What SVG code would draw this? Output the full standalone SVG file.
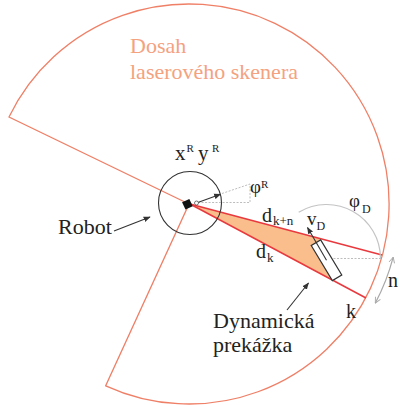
<svg xmlns="http://www.w3.org/2000/svg" width="401" height="405" viewBox="0 0 401 405">
<defs>
<style>
text{font-family:'Liberation Serif','Times New Roman',serif;fill:#222}
.range{fill:none;stroke:#EF7F66;stroke-width:1.3}
.ray{stroke:#E8393E;stroke-width:1.5;fill:none}
.dot{fill:none;stroke:#BDBDBD;stroke-width:1;stroke-dasharray:2 1.5}
.blk{stroke:#333;stroke-width:1.1;fill:none}
</style>
<marker id="ah" viewBox="0 0 10 10" refX="9" refY="5" markerWidth="7" markerHeight="7" orient="auto" markerUnits="userSpaceOnUse">
<path d="M0,1 L10,5 L0,9 Z" fill="#333"/>
</marker>
<marker id="ga" viewBox="0 0 10 10" refX="9" refY="5" markerWidth="7" markerHeight="7" orient="auto-start-reverse" markerUnits="userSpaceOnUse">
<path d="M1,1 L9,5 L1,9" fill="none" stroke="#A8A8A8" stroke-width="1.3"/>
</marker>
</defs>
<rect width="401" height="405" fill="#fff"/>

<g id="scanner-range">
<path class="range" d="M189,204 L9,117 A200,200 0 1 1 105.7,385.8 Z"/>
<text x="130" y="53" font-size="22" style="fill:#F4A27F">Dosah</text>
<text x="130" y="79" font-size="22" style="fill:#F4A27F">laserového skenera</text>
</g>

<g id="rays">
<polygon points="190,204 321,239 311.2,245.5 332.3,280.6" fill="#F9BE8C"/>
<line class="ray" x1="190" y1="204" x2="382" y2="255"/>
<line class="ray" x1="190" y1="204" x2="366" y2="298"/>
<text x="262" y="222" font-size="20">d</text>
<text x="273" y="225" font-size="13">k+n</text>
<text x="256" y="258" font-size="20">d</text>
<text x="267" y="262" font-size="13">k</text>
<text x="346" y="318" font-size="20">k</text>
</g>

<g id="robot">
<circle class="blk" cx="190" cy="203" r="31.5"/>
<path class="dot" d="M222,193.5 L250,184 L250,202.5 L197,202.5"/>
<rect x="-4" y="-4" width="8" height="8" fill="#111" transform="translate(187.4,204.2) rotate(-25)"/>
<circle cx="196.5" cy="203" r="2" fill="#fff" stroke="#555" stroke-width="0.8"/>
<line class="blk" x1="198.5" y1="202.3" x2="220.5" y2="194.3" marker-end="url(#ah)"/>
<text x="175" y="160" font-size="21">x</text>
<text x="186.5" y="152" font-size="11">R</text>
<text x="198" y="160" font-size="21">y</text>
<text x="212" y="152" font-size="11">R</text>
<text x="250" y="193" font-size="19">φ</text>
<text x="261" y="188" font-size="11">R</text>
<text x="58" y="234" font-size="22">Robot</text>
</g>

<g id="obstacle">
<path d="M298.7,212.2 A54,54 0 0 1 380.5,258.5" fill="none" stroke="#C4C4C4" stroke-width="1.2"/>
<line class="dot" x1="323" y1="258.5" x2="381" y2="258.5"/>
<rect x="-20.5" y="-5.5" width="41" height="11" fill="#fff" stroke="#333" stroke-width="1.2" transform="translate(326.5,260.25) rotate(59)"/>
<line class="blk" x1="326.5" y1="260.25" x2="307.5" y2="227.5" marker-end="url(#ah)"/>
<text x="307" y="225" font-size="19">v</text>
<text x="316.5" y="230" font-size="12">D</text>
<text x="349" y="207" font-size="19">φ</text>
<text x="362" y="213" font-size="12">D</text>
<text x="213" y="328" font-size="22">Dynamická</text>
<text x="213" y="352" font-size="22">prekážka</text>
</g>

<g id="n-span">
<path d="M393.2,257.2 A211,211 0 0 1 375.3,303.1" fill="none" stroke="#A8A8A8" stroke-width="1.2" marker-start="url(#ga)" marker-end="url(#ga)"/>
<text x="388" y="287" font-size="20">n</text>
</g>

<g id="connectors">
<line class="blk" x1="114" y1="231" x2="150" y2="217" marker-end="url(#ah)"/>
<line class="blk" x1="287" y1="310" x2="308.5" y2="283" marker-end="url(#ah)"/>
</g>
</svg>
